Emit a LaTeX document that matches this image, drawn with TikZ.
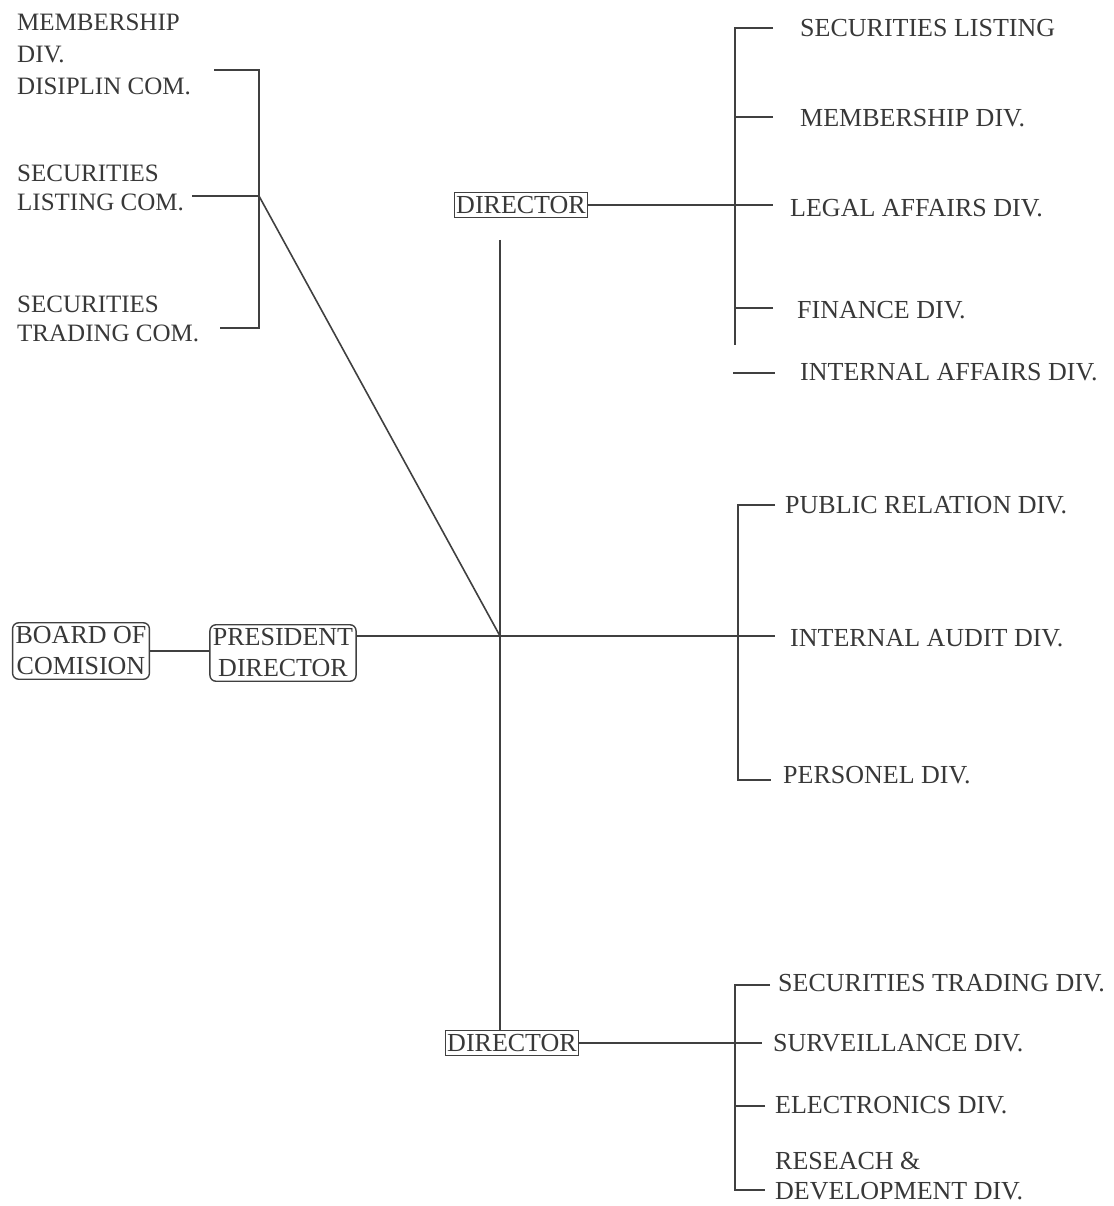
\documentclass[tikz,border=0pt]{standalone}
\usepackage{fontspec}
\setmainfont{Liberation Serif}
\begin{document}
\begin{tikzpicture}[x=1pt,y=-1pt,
  every node/.style={font=\fontsize{26}{31}\selectfont, text=black!78, inner sep=0pt},
  ln/.style={draw=black!75, line width=1.6pt},
  lbl/.style={anchor=west, align=left},
  sqbox/.style={draw=black!75, line width=1.4pt, inner xsep=2pt, inner ysep=4pt},
  rbox/.style={draw=black!75, line width=1.4pt, rounded corners=6pt, inner xsep=3pt, inner ysep=4pt, align=center}]
\useasboundingbox (0,0) rectangle (1113,1206);

% ---------- left committees ----------
\node[lbl, font=\fontsize{25}{32}\selectfont] (memc) at (17,54) {MEMBERSHIP\\DIV.\\DISIPLIN COM.};
\node[lbl, font=\fontsize{25}{29}\selectfont] (lstc) at (17,188) {SECURITIES\\LISTING COM.};
\node[lbl, font=\fontsize{25}{29}\selectfont] (trdc) at (17,319) {SECURITIES\\TRADING COM.};
\coordinate (lj) at (259,196);
\coordinate (lmem) at (214,70);
\coordinate (llst) at (192,196);
\coordinate (ltrd) at (220,328);
\draw[ln] (lmem) -| (lj) |- (ltrd);
\draw[ln] (llst) -- (lj);

% ---------- center ----------
\coordinate (hub) at (500,636);
\node[sqbox] (dtop) at (521,205) {DIRECTOR};
\node[sqbox] (dbot) at (512,1043) {DIRECTOR};
\node[rbox] (board) at (81,651) {BOARD OF\\COMISION};
\node[rbox] (pres) at (283,653) {PRESIDENT\\DIRECTOR};
\coordinate (vtop) at (500,240);
\draw[ln] (lj) -- (hub);
\draw[ln] (vtop) -- (dbot.north -| hub);
\draw[ln] (board.east |- 0,651) -- (pres.west |- 0,651);
\draw[ln] (pres.east |- hub) -- (hub);

% ---------- top right ----------
\node[lbl] (sl) at (800,28) {SECURITIES LISTING};
\node[lbl] (md) at (800,118) {MEMBERSHIP DIV.};
\node[lbl] (la) at (790,208) {LEGAL AFFAIRS DIV.};
\node[lbl] (fd) at (797,310) {FINANCE DIV.};
\node[lbl] (ia) at (800,372) {INTERNAL AFFAIRS DIV.};
\coordinate (tb) at (735,345);
\coordinate (t1) at (773,28);
\coordinate (t2) at (773,117);
\coordinate (t3) at (773,205);
\coordinate (t4) at (773,308);
\draw[ln] (t1) -| (tb);
\draw[ln] (t2) -- (t2 -| tb);
\draw[ln] (dtop.east) -- (t3);
\draw[ln] (t4) -- (t4 -| tb);
\coordinate (iaL) at (733,373);
\coordinate (iaR) at (775,373);
\draw[ln] (iaL) -- (iaR);

% ---------- middle right ----------
\node[lbl] (pr) at (785,505) {PUBLIC RELATION DIV.};
\node[lbl] (au) at (790,638) {INTERNAL AUDIT DIV.};
\node[lbl] (pe) at (783,775) {PERSONEL DIV.};
\coordinate (m1) at (775,505);
\coordinate (m3) at (771,780);
\coordinate (mx) at (738,636);
\draw[ln] (m1) -| (mx) |- (m3);
\draw[ln] (hub) -- (775,636);

% ---------- bottom right ----------
\node[lbl] (st) at (778,983) {SECURITIES TRADING DIV.};
\node[lbl] (sv) at (773,1043) {SURVEILLANCE DIV.};
\node[lbl] (el) at (775,1105) {ELECTRONICS DIV.};
\node[lbl, font=\fontsize{26}{30}\selectfont] (rd) at (775,1176) {RESEACH \&\\DEVELOPMENT DIV.};
\coordinate (b1) at (770,985);
\coordinate (b4) at (765,1190);
\coordinate (b3) at (765,1106);
\coordinate (bx) at (735,1043);
\draw[ln] (b1) -| (bx) |- (b4);
\draw[ln] (b3) -- (b3 -| bx);
\draw[ln] (dbot.east) -- (762,1043);
\end{tikzpicture}
\end{document}
